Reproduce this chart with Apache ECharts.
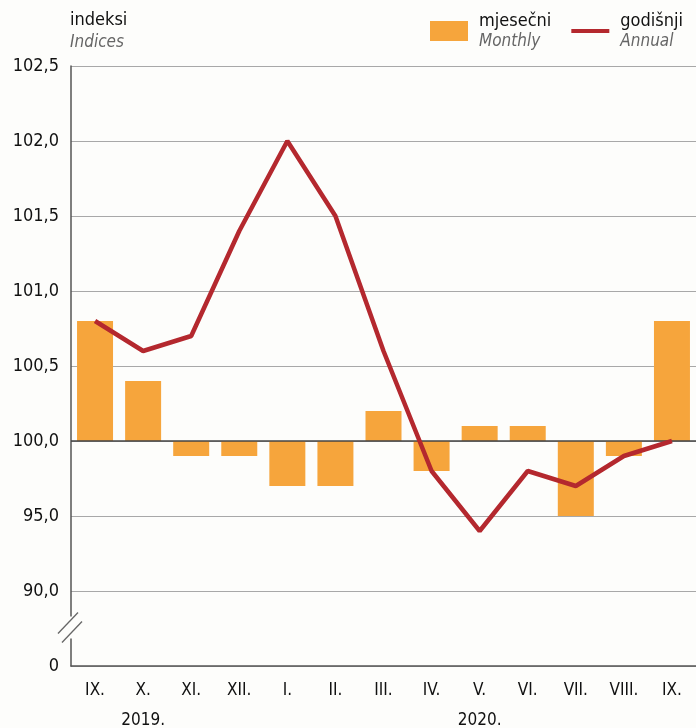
<!DOCTYPE html>
<html>
<head>
<meta charset="utf-8">
<script src="https://cdn.jsdelivr.net/npm/echarts@6/dist/echarts.min.js"></script>
<style>
  html, body { margin: 0; padding: 0; background: #fdfdfb; }
  #chart { width: 696px; height: 728px; }
</style>
</head>
<body>
<div id="chart"></div>
<script>
// months, Sep 2019 - Sep 2020
const months = ['IX.', 'X.', 'XI.', 'XII.', 'I.', 'II.', 'III.', 'IV.', 'V.', 'VI.', 'VII.', 'VIII.', 'IX.'];
const monthly = [100.8, 100.4, 99.9, 99.9, 99.7, 99.7, 100.2, 99.8, 100.1, 100.1, 99.5, 99.9, 100.8];
const annual = [100.8, 100.6, 100.7, 101.4, 102.0, 101.5, 100.6, 99.8, 99.4, 99.8, 99.7, 99.9, 100.0];
// tick labels as printed (axis is broken below 100)
const tickValues = [98.5, 99.0, 99.5, 100.0, 100.5, 101.0, 101.5, 102.0, 102.5];
const tickLabels = ['0', '90,0', '95,0', '100,0', '100,5', '101,0', '101,5', '102,0', '102,5'];
const years = [{ label: '2019.', at: 1.4 }, { label: '2020.', at: 8 }];

const FONT = '"DejaVu Sans Condensed", "Liberation Sans", sans-serif';
const ORANGE = '#f6a53c';
const RED = '#b4282e';

const chart = echarts.init(document.getElementById('chart'));

chart.setOption({
    backgroundColor: '#fdfdfb',
    animation: false,
    textStyle: { fontFamily: FONT },
    title: {
        left: 70, top: 8, padding: 0,
        text: '{a|indeksi}\n{b|Indices}',
        textStyle: {
            fontWeight: 'normal',
            rich: {
                a: { fontFamily: FONT, fontSize: 18, color: '#111', lineHeight: 24 },
                b: { fontFamily: FONT, fontSize: 17, fontStyle: 'italic', color: '#666', lineHeight: 22 }
            }
        }
    },
    legend: {
        left: 430, top: 12, padding: 0,
        itemWidth: 38, itemHeight: 20, itemGap: 20,
        selectedMode: false,
        data: [
            { name: 'mjesečni', icon: 'rect' },
            { name: 'godišnji', icon: 'path://M0,0 L44,0 L44,4.5 L0,4.5 Z' }
        ],
        formatter: function (name) {
            return name === 'mjesečni' ? '{a|mjesečni}\n{b|Monthly}' : '{a|godišnji}\n{b|Annual}';
        },
        textStyle: {
            rich: {
                a: { fontFamily: FONT, fontSize: 18, color: '#111', lineHeight: 22, padding: [0, 0, 0, 6] },
                b: { fontFamily: FONT, fontSize: 17, fontStyle: 'italic', color: '#666', lineHeight: 20, padding: [0, 0, 0, 6] }
            }
        }
    },
    grid: { left: 71, right: 0, top: 66, bottom: 62, containLabel: false },
    xAxis: {
        type: 'category',
        data: months,
        axisLine: { lineStyle: { color: '#555', width: 1.5 } },
        axisTick: { show: false },
        axisLabel: { color: '#111', fontSize: 17, margin: 16, fontFamily: FONT },
        splitLine: { show: false }
    },
    yAxis: {
        type: 'value',
        min: 98.5, max: 102.5, interval: 0.5,
        axisLine: { show: true, lineStyle: { color: '#555', width: 1.5 } },
        axisTick: { show: false },
        axisLabel: {
            color: '#111', fontSize: 18, margin: 12, fontFamily: FONT,
            formatter: function (v) {
                const i = tickValues.findIndex(t => Math.abs(t - v) < 1e-6);
                return i >= 0 ? tickLabels[i] : '';
            }
        },
        splitLine: { lineStyle: { color: '#a8a8a8', width: 1.2 } }
    },
    series: [
        {
            name: 'mjesečni',
            type: 'custom',
            itemStyle: { color: ORANGE },
            renderItem: function (params, api) {
                const top = api.coord([api.value(0), api.value(1)]);
                const base = api.coord([api.value(0), 100]);
                const w = 36;
                return {
                    type: 'rect',
                    shape: { x: top[0] - w / 2, y: Math.min(top[1], base[1]), width: w, height: Math.abs(base[1] - top[1]) },
                    style: { fill: ORANGE }
                };
            },
            encode: { x: 0, y: 1 },
            data: monthly.map((v, i) => [i, v]),
            z: 2
        },
        {
            name: 'godišnji',
            type: 'line',
            data: annual,
            symbol: 'none',
            lineStyle: { color: RED, width: 4.5 },
            itemStyle: { color: RED },
            z: 4,
            markLine: {
                silent: true,
                symbol: 'none',
                label: { show: false },
                lineStyle: { color: '#444', width: 1.5, type: 'solid' },
                data: [{ yAxis: 100 }],
                z: 3
            }
        }
    ]
});

// axis break marks and year labels
const xAt = v => chart.convertToPixel({ xAxisIndex: 0 }, v);
const yAt = v => chart.convertToPixel({ yAxisIndex: 0 }, v);
const axisX = chart.getModel().getComponent('grid').coordinateSystem.getRect().x;
const yb = yAt(98.75);

const graphics = [
    { type: 'rect', shape: { x: axisX - 3, y: yb - 12, width: 6, height: 22 }, style: { fill: '#fdfdfb' }, z: 10 },
    { type: 'line', shape: { x1: axisX - 13, y1: yb + 5, x2: axisX + 7, y2: yb - 16 }, style: { stroke: '#666', lineWidth: 1.3 }, z: 11 },
    { type: 'line', shape: { x1: axisX - 9, y1: yb + 14, x2: axisX + 11, y2: yb - 7 }, style: { stroke: '#666', lineWidth: 1.3 }, z: 11 }
];
years.forEach(y => {
    graphics.push({
        type: 'text',
        x: xAt(y.at), y: 712,
        style: { text: y.label, fill: '#111', font: '17px ' + FONT, textAlign: 'center', textVerticalAlign: 'top' },
        z: 11
    });
});
chart.setOption({ graphic: graphics });
</script>
</body>
</html>
